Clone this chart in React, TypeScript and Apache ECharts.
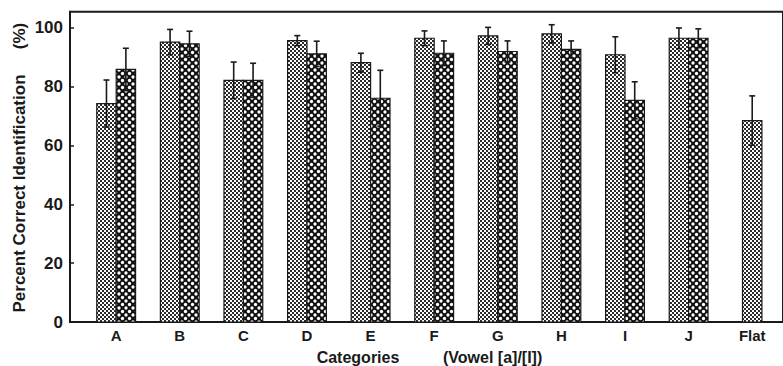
import React, { useEffect, useRef } from "react";
import * as echarts from "echarts";

const categories = ["A", "B", "C", "D", "E", "F", "G", "H", "I", "J", "Flat"];
const condAMeans: (number | null)[] = [74.3, 95.2, 82.2, 95.7, 88.2, 96.5, 97.3, 98.0, 90.9, 96.5, 68.5];
const condAErrs: (number | null)[] = [8.0, 4.3, 6.2, 1.7, 3.2, 2.5, 2.9, 3.1, 6.1, 3.5, 8.4];
const condBMeans: (number | null)[] = [85.9, 94.6, 82.2, 91.2, 76.1, 91.4, 92.0, 92.7, 75.4, 96.5, null];
const condBErrs: (number | null)[] = [7.2, 4.3, 5.8, 4.3, 9.5, 4.2, 3.6, 2.9, 6.3, 3.2, null];
const yTicks = [0, 20, 40, 60, 80, 100];

const FONT = "'Liberation Sans', Arial, Helvetica, sans-serif";
const INK = "#1a1a1a";

function makeFinePattern() {
  const c = document.createElement("canvas");
  c.width = 4;
  c.height = 4;
  const g = c.getContext("2d")!;
  g.fillStyle = "#ffffff";
  g.fillRect(0, 0, 4, 4);
  g.fillStyle = "#2a2a2a";
  g.fillRect(0, 0, 2, 2);
  g.fillRect(2, 2, 2, 2);
  return c;
}

function makeCoarsePattern() {
  const s = 7;
  const c = document.createElement("canvas");
  c.width = s;
  c.height = s;
  const g = c.getContext("2d")!;
  g.fillStyle = "#111111";
  g.fillRect(0, 0, s, s);
  g.fillStyle = "#ffffff";
  const pts = [
    [0, 0],
    [s, 0],
    [0, s],
    [s, s],
    [s / 2, s / 2],
  ];
  for (const [x, y] of pts) {
    g.beginPath();
    g.arc(x, y, 1.65, 0, Math.PI * 2);
    g.fill();
  }
  return c;
}

export default function App() {
  const ref = useRef<HTMLDivElement>(null);

  useEffect(() => {
    if (!ref.current) return;
    const chart = echarts.init(ref.current, null, { renderer: "svg" });

    const fine = makeFinePattern();
    const coarse = makeCoarsePattern();
    const finePat = { image: fine, repeat: "repeat", imageWidth: 4, imageHeight: 4 };
    const coarsePat = { image: coarse, repeat: "repeat", imageWidth: 7, imageHeight: 7 };

    const BAR_FRAC = 0.305;

    const buildData = (means: (number | null)[], errs: (number | null)[], other: (number | null)[], side: number) => {
      const out: number[][] = [];
      means.forEach((v, i) => {
        if (v == null) return;
        const off = other[i] == null ? 0 : side;
        out.push([i, v, errs[i] ?? 0, off]);
      });
      return out;
    };

    const makeRender = (pattern: any) => (params: any, api: any) => {
      const i = api.value(0);
      const v = api.value(1);
      const e = api.value(2);
      const off = api.value(3);
      const base = api.coord([i, 0]);
      const top = api.coord([i, v]);
      const w = api.size([1, 0])[0] * BAR_FRAC;
      const cx = base[0] + off * w;
      const hi = api.coord([i, v + e])[1];
      const lo = api.coord([i, v - e])[1];
      const cap = 3;
      const ls = { stroke: INK, lineWidth: 1.6 };
      return {
        type: "group",
        children: [
          {
            type: "rect",
            shape: { x: cx - w / 2, y: top[1], width: w, height: base[1] - top[1] },
            style: { fill: pattern, stroke: INK, lineWidth: 1.2 },
          },
          { type: "line", shape: { x1: cx, y1: hi, x2: cx, y2: lo }, style: ls },
          { type: "line", shape: { x1: cx - cap, y1: hi, x2: cx + cap, y2: hi }, style: ls },
          { type: "line", shape: { x1: cx - cap, y1: lo, x2: cx + cap, y2: lo }, style: ls },
        ],
      };
    };

    const option: any = {
      animation: false,
      backgroundColor: "#ffffff",
      grid: {
        left: 70,
        right: -5,
        top: 11.8,
        bottom: 44,
        show: true,
        borderColor: INK,
        borderWidth: 2,
        backgroundColor: "transparent",
      },
      xAxis: {
        type: "value",
        min: -0.726,
        max: 10.484,
        splitLine: { show: false },
        axisLine: { show: true, onZero: false, lineStyle: { color: INK, width: 2 } },
        axisTick: { show: false },
        axisLabel: {
          customValues: categories.map((_, i) => i),
          formatter: (v: number) => categories[Math.round(v)] ?? "",
          margin: 6,
          color: INK,
          fontFamily: FONT,
          fontWeight: "bold",
          fontSize: 15,
          lineHeight: 15,
        },
      },
      yAxis: {
        type: "value",
        min: 0,
        max: 105.5,
        splitLine: { show: false },
        axisLine: { show: true, onZero: false, lineStyle: { color: INK, width: 2 } },
        axisTick: {
          show: true,
          inside: true,
          length: 4,
          customValues: yTicks,
          lineStyle: { color: INK, width: 1.5 },
        },
        axisLabel: {
          customValues: yTicks,
          margin: 7,
          color: INK,
          fontFamily: FONT,
          fontWeight: "bold",
          fontSize: 17,
        },
      },
      graphic: [
        {
          type: "text",
          x: 19,
          y: 193.5,
          rotation: Math.PI / 2,
          style: {
            text: "Percent Correct Identification",
            fill: INK,
            font: `bold 17px ${FONT}`,
            align: "center",
            verticalAlign: "middle",
          },
        },
        {
          type: "text",
          x: 19,
          y: 36,
          rotation: Math.PI / 2,
          style: {
            text: "(%)",
            fill: INK,
            font: `bold 17px ${FONT}`,
            align: "center",
            verticalAlign: "middle",
          },
        },
        {
          type: "text",
          x: 358,
          y: 357,
          style: {
            text: "Categories",
            fill: INK,
            font: `bold 16px ${FONT}`,
            align: "center",
            verticalAlign: "middle",
          },
        },
        {
          type: "text",
          x: 443,
          y: 357,
          style: {
            text: "(Vowel [a]/[I])",
            fill: INK,
            font: `bold 16px ${FONT}`,
            align: "left",
            verticalAlign: "middle",
          },
        },
      ],
      series: [
        {
          type: "custom",
          name: "Condition 1",
          renderItem: makeRender(finePat),
          encode: { x: 0, y: 1 },
          data: buildData(condAMeans, condAErrs, condBMeans, -0.5),
          z: 3,
        },
        {
          type: "custom",
          name: "Condition 2",
          renderItem: makeRender(coarsePat),
          encode: { x: 0, y: 1 },
          data: buildData(condBMeans, condBErrs, condAMeans, 0.5),
          z: 3,
        },
      ],
    };

    chart.setOption(option);
    return () => chart.dispose();
  }, []);

  return (
    <div
      ref={ref}
      style={{ position: "fixed", left: 0, top: 0, width: 783, height: 366, background: "#fff" }}
    />
  );
}
